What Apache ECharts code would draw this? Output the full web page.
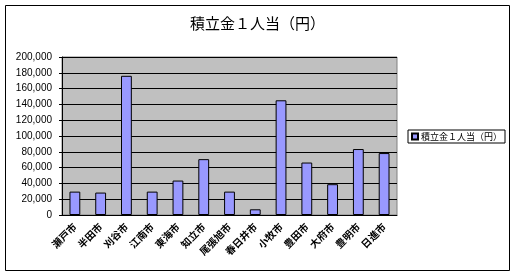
<!DOCTYPE html>
<html><head><meta charset="utf-8">
<script src="https://cdn.jsdelivr.net/npm/echarts@6/dist/echarts.min.js"></script>
<style>html,body{margin:0;padding:0;background:#fff}#c{width:515px;height:276px}</style>
</head><body><div id="c"></div>
<script>
const titleText = '積立金１人当（円）';
const seriesName = '積立金１人当（円）';
const categories = ['瀬戸市','半田市','刈谷市','江南市','東海市','知立市','尾張旭市','春日井市','小牧市','豊田市','大府市','豊明市','日進市'];
const values = [29600, 28400, 176200, 29600, 43600, 70700, 29600, 7200, 145200, 66400, 39000, 83500, 78400];
const yMin = 0, yMax = 200000, yStep = 20000;

const font = '"Noto Sans CJK JP", "Noto Sans", sans-serif';
const chart = echarts.init(document.getElementById('c'), null, {renderer: 'canvas'});
chart.setOption({
  animation: false,
  backgroundColor: '#fff',
  textStyle: {fontFamily: font},
  title: {text: titleText, left: 'center', top: 11,
    textStyle: {fontSize: 15, fontWeight: 'normal', color: '#000', fontFamily: font}},
  graphic: [{type: 'rect', shape: {x: 5.5, y: 5.5, width: 504, height: 265},
    style: {fill: 'none', stroke: '#000', lineWidth: 1}, z: -1}],
  legend: {left: 408, top: 130, padding: [2, 3, 2, 3], borderColor: '#000', borderWidth: 1,
    itemWidth: 6, itemHeight: 6, itemGap: 2, icon: 'rect',
    textStyle: {fontSize: 9, color: '#000', fontFamily: font, padding: [0,0,0,-2]},
    data: [seriesName]},
  grid: {left: 62, right: 118, top: 57, bottom: 61, show: true, backgroundColor: '#C0C0C0',
    borderColor: '#808080', borderWidth: 1},
  xAxis: {type: 'category', data: categories, boundaryGap: true,
    axisLine: {lineStyle: {color: '#000', width: 1}},
    axisTick: {inside: true, length: 3, lineStyle: {color: '#000'}},
    axisLabel: {rotate: 45, fontSize: 10, color: '#000', fontWeight: 'bold', margin: 10, interval: 0, fontFamily: font}},
  yAxis: {type: 'value', min: yMin, max: yMax, interval: yStep,
    axisLine: {show: true, lineStyle: {color: '#000'}},
    axisTick: {show: true, length: 3, lineStyle: {color: '#000'}},
    splitLine: {lineStyle: {color: '#000', width: 1}},
    axisLabel: {fontSize: 10, color: '#000', margin: 10, fontFamily: 'Arial, "Liberation Sans", sans-serif',
      formatter: v => v.toLocaleString('en-US')}},
  series: [{name: seriesName, type: 'bar', data: values, barWidth: '42%',
    itemStyle: {color: '#9999FF', borderColor: '#000', borderWidth: 1}}]
});
</script></body></html>
